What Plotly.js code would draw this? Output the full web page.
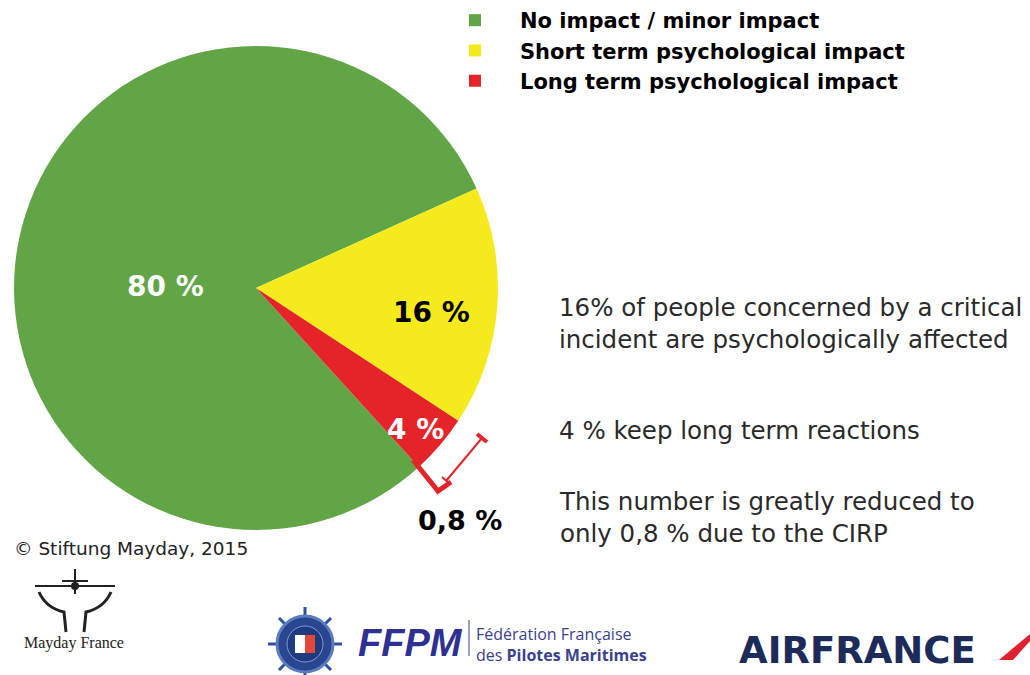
<!DOCTYPE html>
<html>
<head>
<meta charset="utf-8">
<script src="https://cdn.plot.ly/plotly-3.0.1.min.js"></script>
<style>html,body{margin:0;padding:0;background:#fff;}#chart{width:1030px;height:675px;}</style>
</head>
<body>
<div id="chart"></div>
<script>
// ---- data ----
const labels = ['No impact / minor impact', 'Short term psychological impact', 'Long term psychological impact'];
const values = [80, 16, 4];
const sliceText = ['80 %', '16 %', '4 %'];
const sliceColors = ['#61a546', '#f5ea1c', '#e52429'];
const sliceTextColors = ['#ffffff', '#000000', '#ffffff'];
const cirpLabel = '0,8 %';
const notes = [
  '16% of people concerned by a critical<br>incident are psychologically affected',
  '4 % keep long term reactions',
  'This number is greatly reduced to<br>only 0,8 % due to the CIRP'
];
const credit = '© Stiftung Mayday, 2015';

// ---- helpers (pixel -> paper) ----
const W = 1030, H = 675;
const px = x => x / W;
const py = y => 1 - y / H;
const path = s => s.replace(/(-?[\d.]+),(-?[\d.]+)/g, (m, a, b) => px(+a).toFixed(5) + ',' + py(+b).toFixed(5));

const pie = {
  type: 'pie',
  labels: labels,
  values: values,
  textinfo: 'none',
  marker: {colors: sliceColors, line: {width: 0}},
  sort: false,
  direction: 'clockwise',
  rotation: 137.7,
  hoverinfo: 'label+percent',
  domain: {x: [px(14), px(498)], y: [py(530), py(46)]},
  showlegend: true
};

const labelFont = (c) => ({family: 'DejaVu Sans, sans-serif', size: 28, color: c});
const labelPos = [[165, 287], [431, 312], [415, 429]];
const noteFont = {family: 'DejaVu Sans, sans-serif', size: 24.5, color: '#2a2a2a'};
const annotations = [
  ...sliceText.map((t, i) => ({x: px(labelPos[i][0]), y: py(labelPos[i][1]), xanchor: 'center', text: '<b>' + t + '</b>', font: labelFont(sliceTextColors[i])})),
  {x: px(557), y: py(323), text: notes[0], font: noteFont, align: 'left'},
  {x: px(557), y: py(430), text: notes[1], font: noteFont, align: 'left'},
  {x: px(557), y: py(517), text: notes[2], font: noteFont, align: 'left'},
  {x: px(416), y: py(520), text: '<b>' + cirpLabel + '</b>', font: {family: 'DejaVu Sans, sans-serif', size: 27, color: '#000'}},
  {x: px(12), y: py(548), text: credit, font: {family: 'DejaVu Sans, sans-serif', size: 18.5, color: '#222'}},
  {x: px(22), y: py(643), text: 'Mayday France', font: {family: 'Liberation Serif, serif', size: 16, color: '#222'}},
  {x: px(356), y: py(643), text: '<b><i>FFPM</i></b>', font: {family: 'Liberation Sans, sans-serif', size: 38, color: '#2e3192'}},
  {x: px(474), y: py(644), text: 'Fédération Française<br>des <b>Pilotes Maritimes</b>', font: {family: 'Open Sans, sans-serif', size: 16, color: '#3b3f8f'}, align: 'left'},
  {x: px(737), y: py(650), text: '<b>AIRFRANCE</b>', font: {family: 'DejaVu Sans, sans-serif', size: 37, color: '#1c2b5a'}}
].map(a => Object.assign({xref: 'paper', yref: 'paper', xanchor: 'left', yanchor: 'middle', showarrow: false}, a));

const red = '#e52429';
const shapes = [
  // 0,8 % extension of the red slice and CIRP bracket
  {type: 'path', path: path('M413,460 L438,491 L451,482'), line: {color: red, width: 5}},
  {type: 'path', path: path('M446,481 L482,438'), line: {color: red, width: 2}},
  {type: 'path', path: path('M477,434 L487,442'), line: {color: red, width: 4}},
  {type: 'path', path: path('M442,477 L450,484'), line: {color: red, width: 2}},
  // Mayday France logo
  {type: 'path', path: path('M35,586 L115,586'), line: {color: '#222', width: 2}},
  {type: 'path', path: path('M62,581 L88,581'), line: {color: '#222', width: 2}},
  {type: 'path', path: path('M75,569 L75,594'), line: {color: '#222', width: 2}},
  {type: 'circle', x0: px(71), x1: px(79), y0: py(590), y1: py(582), fillcolor: '#222', line: {width: 0}},
  {type: 'path', path: path('M39,592 Q46,608 64,612 L66,632'), line: {color: '#222', width: 3}},
  {type: 'path', path: path('M111,592 Q104,608 86,612 L84,632'), line: {color: '#222', width: 3}},
  // FFPM wheel
  {type: 'path', path: path('M305,607 L305,680 M268,644 L342,644 M279,618 L331,670 M331,618 L279,670'), line: {color: '#2f4f9e', width: 3}},
  {type: 'circle', x0: px(277), x1: px(333), y0: py(672), y1: py(616), fillcolor: '#2a4690', line: {color: '#5b7cc0', width: 3}},
  {type: 'circle', x0: px(287), x1: px(323), y0: py(662), y1: py(626), fillcolor: '#1e3a80', line: {color: '#7f9bd0', width: 1}},
  {type: 'rect', x0: px(295), x1: px(305), y0: py(653), y1: py(635), fillcolor: '#ffffff', line: {width: 0}},
  {type: 'rect', x0: px(305), x1: px(315), y0: py(653), y1: py(635), fillcolor: '#e4463a', line: {width: 0}},
  {type: 'path', path: path('M469,620 L469,656'), line: {color: '#3b3f8f', width: 1}},
  // Air France slash
  {type: 'path', path: path('M999,660 L1013,660 L1030,641 L1030,634 Z'), fillcolor: '#e0202e', line: {width: 0}}
].map(s => Object.assign({xref: 'paper', yref: 'paper', layer: 'above'}, s));

const layout = {
  width: W, height: H,
  margin: {l: 0, r: 0, t: 0, b: 0},
  paper_bgcolor: '#ffffff',
  plot_bgcolor: '#ffffff',
  showlegend: true,
  legend: {
    x: px(430), y: 1, xanchor: 'left', yanchor: 'top',
    itemwidth: 80,
    font: {family: 'DejaVu Sans, sans-serif', size: 21, color: '#000', weight: 700},
    traceorder: 'normal',
    bgcolor: 'rgba(0,0,0,0)'
  },
  annotations: annotations,
  shapes: shapes
};

Plotly.newPlot('chart', [pie], layout, {displayModeBar: false, staticPlot: true});
</script>
</body>
</html>
